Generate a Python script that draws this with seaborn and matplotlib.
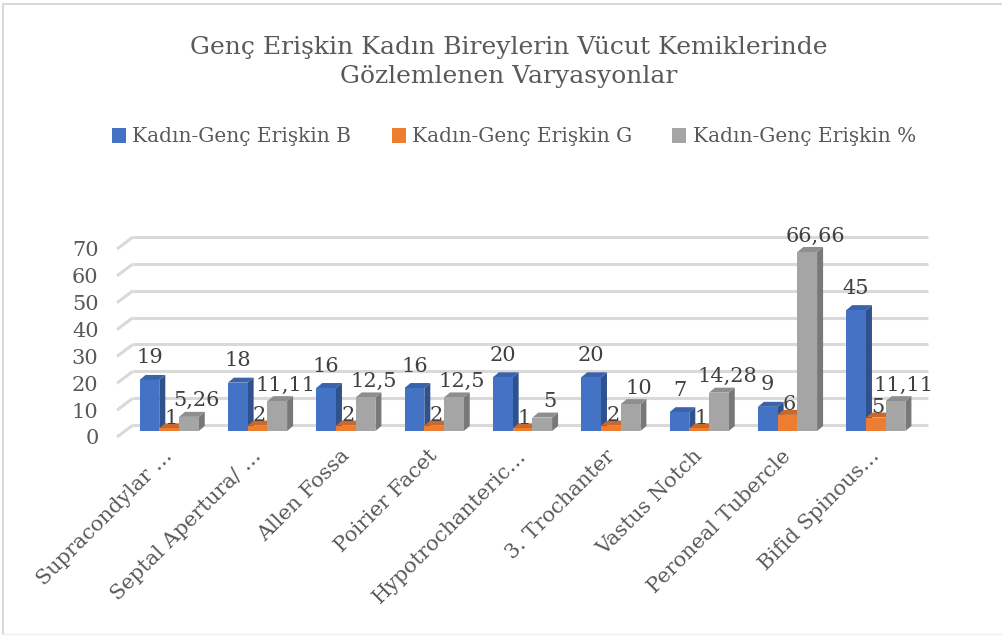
import numpy as np
import pandas as pd
import seaborn as sns
import matplotlib.pyplot as plt
import matplotlib.transforms as mtransforms
from matplotlib.patches import Polygon, Patch
from matplotlib.lines import Line2D

categories = ["Supracondylar …", "Septal Apertura/ …", "Allen Fossa", "Poirier Facet",
              "Hypotrochanteric…", "3. Trochanter", "Vastus Notch", "Peroneal Tubercle",
              "Bifid Spinous…"]
series_names = ["Kadın-Genç Erişkin B", "Kadın-Genç Erişkin G", "Kadın-Genç Erişkin %"]
values_b = [19, 18, 16, 16, 20, 20, 7, 9, 45]
values_g = [1, 2, 2, 2, 1, 2, 1, 6, 5]
values_pct = [5.26, 11.11, 12.5, 12.5, 5, 10, 14.28, 66.66, 11.11]
y_ticks = [0, 10, 20, 30, 40, 50, 60, 70]

front_colors = ["#4472C4", "#ED7D31", "#A5A5A5"]
side_colors = ["#2F528F", "#AE5A21", "#787878"]
top_colors = ["#3A63AC", "#C8682A", "#8E8E8E"]
label_dy_px = [22, 10, 16]
label_dx_px = [0, 2, 8]

df = pd.DataFrame({
    "kategori": categories * 3,
    "seri": [s for s in series_names for _ in categories],
    "deger": values_b + values_g + values_pct,
})

sns.set_theme(style="white")
plt.rcParams["font.family"] = ["DejaVu Serif"]
text_col = "#595959"
label_col = "#404040"

W, H = 1002, 637
fig = plt.figure(figsize=(W / 100, H / 100), dpi=100)
ax_left, ax_right, ax_base, ax_h = 125, 920, 431, 188
ax = fig.add_axes([ax_left / W, (H - ax_base) / H, (ax_right - ax_left) / W, ax_h / H])

sns.barplot(data=df, x="kategori", y="deger", hue="seri", palette=front_colors,
            width=0.67, saturation=1, errorbar=None, ax=ax, legend=False,
            linewidth=0)

n_cat = len(categories)
ax.set_xlim(-0.5, n_cat - 0.5)
ax.set_ylim(0, 70)
for s in ax.spines.values():
    s.set_visible(False)

# pixel -> data conversion for depth effects
px_x = (ax_right - ax_left) / n_cat
px_y = ax_h / 70.0
def dx(p):
    return p / px_x
def dy(p):
    return p / px_y

# back wall grid lines with short slanted floor edge on the left
grid_col = "#D9D9D9"
for yv in y_ticks:
    ax.plot([-0.5 + dx(8), n_cat - 0.5 + dx(8)], [yv + dy(6), yv + dy(6)],
            color=grid_col, lw=2.2, zorder=0, clip_on=False, solid_capstyle="butt")
    ax.plot([-0.5 - dx(8), -0.5 + dx(8)], [yv - dy(6), yv + dy(6)],
            color=grid_col, lw=2.2, zorder=0, clip_on=False, solid_capstyle="butt")

# 3D faces and value labels
def fmt(v):
    if float(v).is_integer():
        return str(int(v))
    return ("%g" % v).replace(".", ",")

series_values = [values_b, values_g, values_pct]
bars = [p for p in ax.patches]
depth_x, depth_y = dx(6), dy(5)
for i, bar in enumerate(bars):
    s_idx = i // n_cat
    c_idx = i % n_cat
    x0 = bar.get_x()
    w = bar.get_width()
    h = bar.get_height()
    z = 2 + s_idx * 3
    bar.set_zorder(z + 2)
    side = Polygon([(x0 + w, 0), (x0 + w + depth_x, depth_y),
                    (x0 + w + depth_x, h + depth_y), (x0 + w, h)],
                   closed=True, facecolor=side_colors[s_idx], edgecolor="none",
                   zorder=z + 1, clip_on=False)
    top = Polygon([(x0, h), (x0 + depth_x, h + depth_y),
                   (x0 + w + depth_x, h + depth_y), (x0 + w, h)],
                  closed=True, facecolor=top_colors[s_idx], edgecolor="none",
                  zorder=z + 1, clip_on=False)
    ax.add_patch(side)
    ax.add_patch(top)
    v = series_values[s_idx][c_idx]
    ax.text(x0 + w / 2 + dx(label_dx_px[s_idx]), v + dy(label_dy_px[s_idx]), fmt(v),
            ha="center", va="center", fontsize=15, color=label_col, zorder=20)

# axis tick labels
ax.set_xlabel("")
ax.set_ylabel("")
ax.set_yticks(y_ticks)
ax.set_yticklabels([str(t) for t in y_ticks], fontsize=15, color=text_col)
ax.tick_params(axis="y", length=0, pad=19)
off_y = mtransforms.ScaledTranslation(0, -6 / 100, fig.dpi_scale_trans)
for lab in ax.get_yticklabels():
    lab.set_transform(lab.get_transform() + off_y)

ax.set_xticks(range(n_cat))
ax.set_xticklabels(categories, rotation=45, ha="right", rotation_mode="anchor",
                   fontsize=15, color=text_col)
ax.tick_params(axis="x", length=0, pad=11)
off_x = mtransforms.ScaledTranslation(-6 / 100, 0, fig.dpi_scale_trans)
for lab in ax.get_xticklabels():
    lab.set_transform(lab.get_transform() + off_x)
ax.grid(False)

# title and legend
fig.text(0.508, 1 - 62 / H, "Genç Erişkin Kadın Bireylerin Vücut Kemiklerinde\nGözlemlenen Varyasyonlar",
         ha="center", va="center", fontsize=18, color=text_col, linespacing=1.3)
handles = [Patch(facecolor=c, edgecolor="none") for c in front_colors]
fig.legend(handles, series_names, loc="center", bbox_to_anchor=(0.513, 1 - 137 / H),
           ncol=3, frameon=False, fontsize=14.5, handlelength=0.7, handleheight=0.7,
           handletextpad=0.3, columnspacing=2.0, labelcolor=text_col)

# chart frame
frame_col = "#D9D9D9"
fig.add_artist(Line2D([3 / W, 3 / W], [1 - 4 / H, 1 - 634 / H], transform=fig.transFigure,
                      color=frame_col, lw=1.5))
fig.add_artist(Line2D([3 / W, 1.0], [1 - 4 / H, 1 - 4 / H], transform=fig.transFigure,
                      color=frame_col, lw=1.5))
fig.add_artist(Line2D([3 / W, 1.0], [1 - 634 / H, 1 - 634 / H], transform=fig.transFigure,
                      color="#EEEEEE", lw=1.0))

fig.savefig("out.png", dpi=100, facecolor="white")
